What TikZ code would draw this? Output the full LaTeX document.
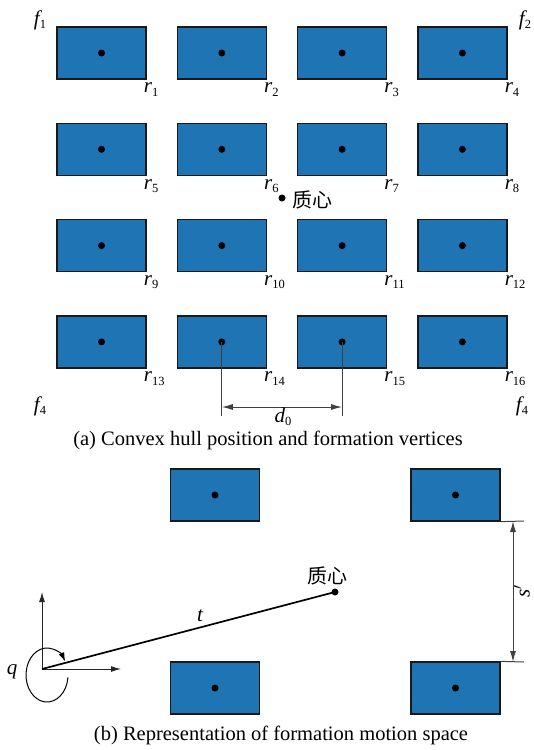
\documentclass[tikz,border=0pt]{standalone}
\usepackage{fontspec}
\setmainfont{Liberation Serif}
\newfontfamily\cjk{Noto Sans CJK SC}
\usetikzlibrary{arrows.meta}
\definecolor{boxblue}{RGB}{31,116,180}
\newcommand\lbl[2]{#1\raisebox{-3.5pt}{\fontsize{12.5}{13}\selectfont\upshape #2}}
\begin{document}
\begin{tikzpicture}[x=1pt,y=-1pt,
  robot/.style={draw=black!90, line width=1.3pt, fill=boxblue, minimum width=89pt, minimum height=52pt, inner sep=0pt},
  cdot/.style={circle, fill=black, inner sep=0pt, minimum size=7pt},
  lab/.style={font=\fontsize{21}{23}\selectfont\itshape, inner sep=0pt},
  cnlab/.style={font=\fontsize{20}{22}\selectfont\cjk, inner sep=0pt},
  captext/.style={font=\fontsize{20.5}{23}\selectfont, inner sep=0pt},
  dimline/.style={draw=black!75, line width=1pt},
  dimarrow/.style={dimline, {Latex[length=11pt,width=6pt]}-{Latex[length=11pt,width=6pt]}},
  axis/.style={draw=black!85, line width=1pt, -{Latex[length=10pt,width=6pt]}}
]
\useasboundingbox (0,0) rectangle (534,750);

% ---------- (a) ----------
\foreach \i in {0,...,3}{
  \foreach \j in {0,...,3}{
    \pgfmathtruncatemacro\n{4*\i+\j+1}
    \node[robot] (b\n) at ({101.5+120.3*\j},{53+96.3*\i}) {};
    \node[cdot] (d\n) at (b\n.center) {};
    \node[lab, anchor=north west] (r\n) at ([xshift=-3pt,yshift=-3pt]b\n.south east) {\lbl{r}{\n}};
  }
}
\node[lab] (f1) at (40,20) {\lbl{f}{1}};
\node[lab] (f2) at (525,20) {\lbl{f}{2}};
\node[lab] (f4a) at (40,406) {\lbl{f}{4}};
\node[lab] (f4b) at (522,406) {\lbl{f}{4}};

\node[cdot] (cm) at (282,198) {};
\node[cnlab, anchor=west] (cmlab) at (292,200) {质心};

\coordinate (e14) at (221.8,416);
\coordinate (e15) at (342.1,416);
\draw[dimline] (d14.center) -- (e14);
\draw[dimline] (d15.center) -- (e15);
\draw[dimarrow] (e14 |- 0,407) -- (e15 |- 0,407);
\node[lab] (d0) at (283,417) {\lbl{d}{0}};

\node[captext] (capa) at (268,440) {(a) Convex hull position and formation vertices};

% ---------- (b) ----------
\node[robot] (p1) at (215,495) {};
\node[robot] (p2) at (455.5,495) {};
\node[robot] (p3) at (215,688) {};
\node[robot] (p4) at (455.5,688) {};
\foreach \k in {1,...,4}{\node[cdot] (q\k) at (p\k.center) {};}

\coordinate (x1) at (524,521);
\coordinate (x2) at (524,662);
\draw[dimline] (p2.south east) -- (x1);
\draw[dimline] (p4.north east) -- (x2);
\draw[dimarrow] (513,521) -- (513,662);
\node[lab, rotate=90] (sp) at (522,591) {s$'$};

\coordinate (o) at (42,669);
\coordinate (ay) at (42,592);
\coordinate (ax) at (121,669);
\draw[axis] (o) -- (ay);
\draw[axis] (o) -- (ax);
\node[cdot] (cm2) at (335,592) {};
\draw[black, line width=1.7pt] (o) -- (cm2.center);
\node[lab] (t) at (200,616) {t};
\node[cnlab] (cm2lab) at (327,576) {质心};

\coordinate (rc) at (47,675);
\draw[black, line width=1pt, -{Latex[length=9pt,width=6pt]}] (rc) ++(5:21 and 27) arc[start angle=5, end angle=330, x radius=21, y radius=27];
\node[lab] (q) at (12,672) {q};

\node[captext] (capb) at (281,735) {(b) Representation of formation motion space};
\end{tikzpicture}
\end{document}
